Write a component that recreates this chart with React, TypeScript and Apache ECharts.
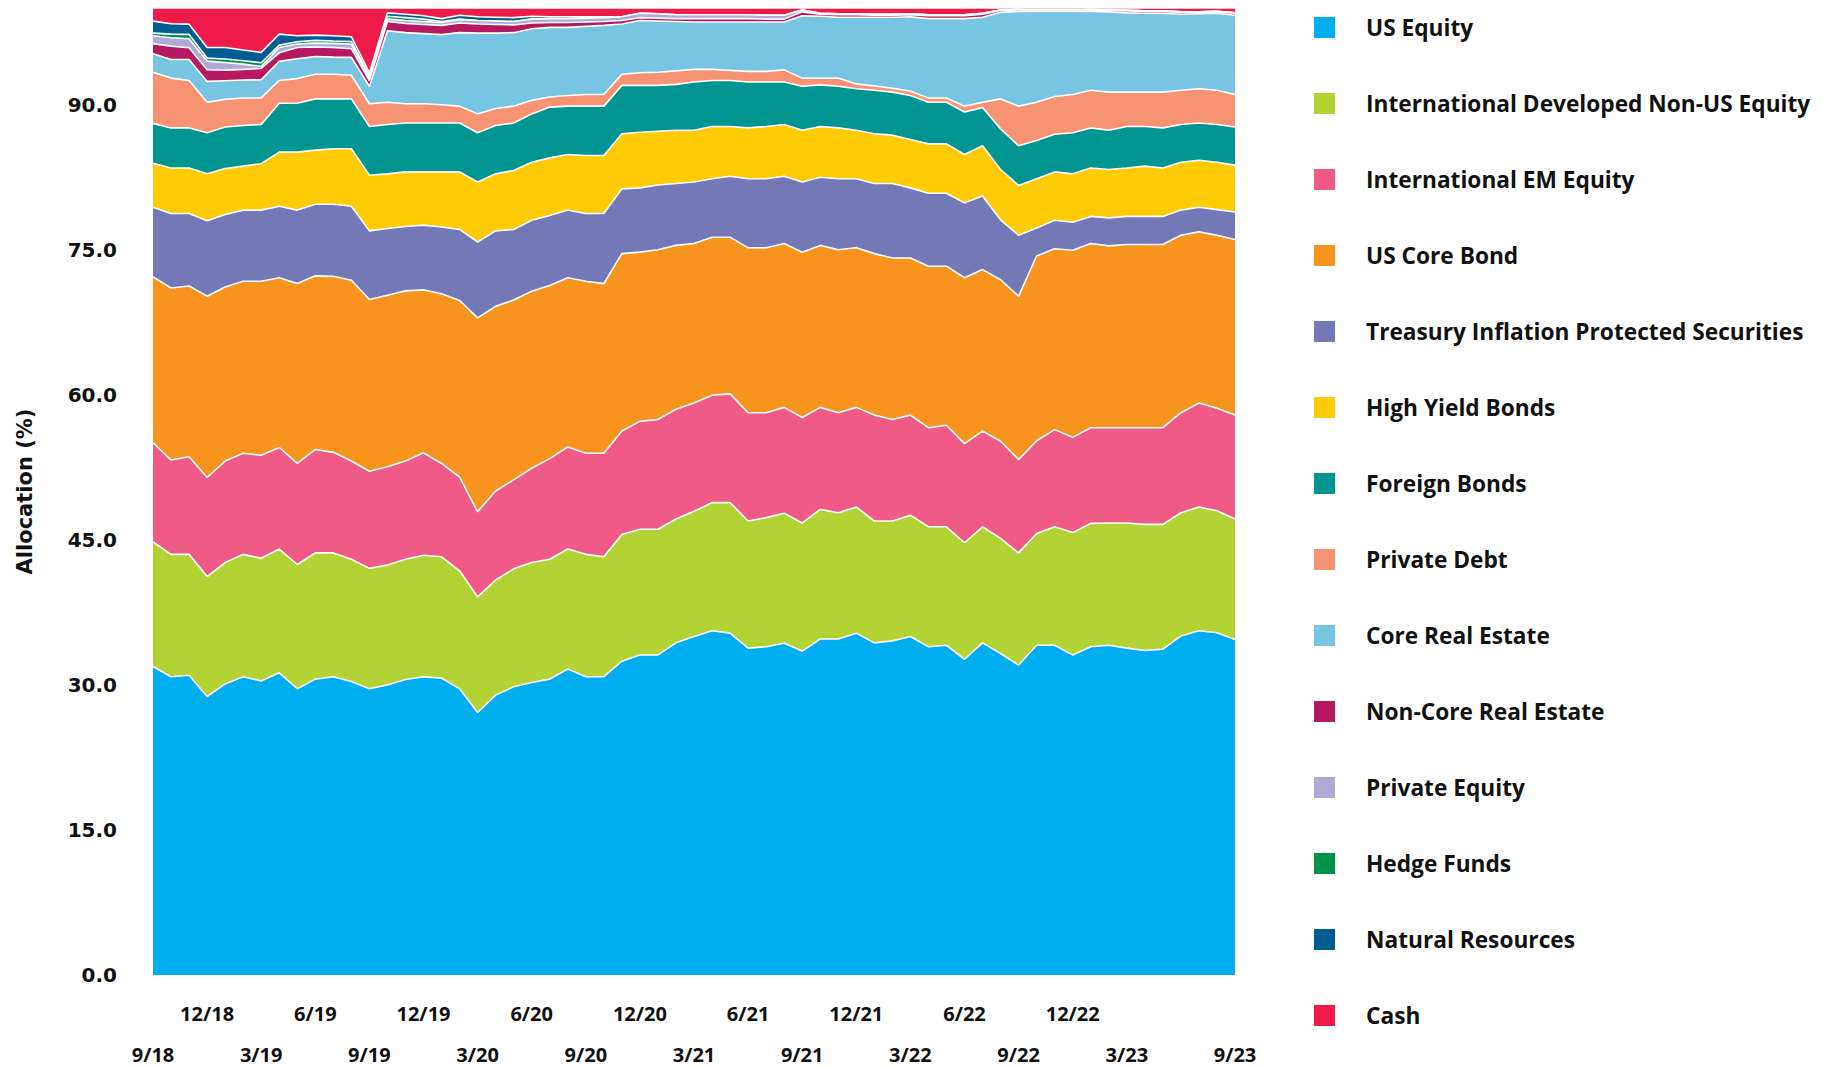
import React, { useEffect, useRef } from "react";
import * as echarts from "echarts";

const categories = [
  "9/18", "10/18", "11/18", "12/18",
  "1/19", "2/19", "3/19", "4/19", "5/19", "6/19", "7/19", "8/19", "9/19", "10/19", "11/19", "12/19",
  "1/20", "2/20", "3/20", "4/20", "5/20", "6/20", "7/20", "8/20", "9/20", "10/20", "11/20", "12/20",
  "1/21", "2/21", "3/21", "4/21", "5/21", "6/21", "7/21", "8/21", "9/21", "10/21", "11/21", "12/21",
  "1/22", "2/22", "3/22", "4/22", "5/22", "6/22", "7/22", "8/22", "9/22", "10/22", "11/22", "12/22",
  "1/23", "2/23", "3/23", "4/23", "5/23", "6/23", "7/23", "8/23", "9/23",
];

const usEquity = [31.9, 30.85, 31.0, 28.8, 30.1, 30.85, 30.4, 31.25, 29.6, 30.6, 30.85, 30.35, 29.6, 30.0, 30.55, 30.85, 30.7, 29.6, 27.15, 28.95, 29.8, 30.25, 30.6, 31.65, 30.85, 30.85, 32.45, 33.1, 33.1, 34.35, 35.0, 35.6, 35.35, 33.8, 33.95, 34.3, 33.5, 34.75, 34.75, 35.35, 34.35, 34.55, 35.0, 33.95, 34.1, 32.65, 34.35, 33.25, 32.05, 34.1, 34.1, 33.1, 33.95, 34.1, 33.8, 33.55, 33.7, 35.05, 35.6, 35.4, 34.7];
const intlDeveloped = [12.9, 12.65, 12.5, 12.4, 12.55, 12.65, 12.7, 12.8, 12.85, 13.05, 12.8, 12.65, 12.45, 12.4, 12.45, 12.55, 12.55, 12.2, 11.95, 11.9, 12.2, 12.4, 12.4, 12.4, 12.65, 12.4, 13.1, 13.0, 13.0, 12.8, 12.95, 13.25, 13.5, 13.15, 13.35, 13.45, 13.25, 13.4, 13.05, 13.05, 12.6, 12.4, 12.55, 12.4, 12.25, 12.05, 12.0, 11.9, 11.6, 11.55, 12.25, 12.65, 12.75, 12.65, 12.95, 13.05, 12.9, 12.75, 12.8, 12.6, 12.45];
const intlEM = [10.25, 9.75, 10.1, 10.25, 10.5, 10.45, 10.65, 10.5, 10.45, 10.7, 10.4, 10.15, 10.05, 10.15, 10.15, 10.6, 9.65, 9.7, 8.8, 9.2, 9.2, 9.75, 10.4, 10.55, 10.45, 10.7, 10.7, 11.15, 11.35, 11.35, 11.2, 11.1, 11.25, 11.2, 10.85, 10.95, 10.9, 10.55, 10.35, 10.3, 10.95, 10.5, 10.35, 10.25, 10.5, 10.25, 9.9, 10.05, 9.65, 9.6, 10.05, 9.85, 9.9, 9.85, 9.85, 10.0, 10.0, 10.35, 10.75, 10.6, 10.75];
const usCoreBond = [17.15, 17.8, 17.65, 18.75, 18.0, 17.8, 18.0, 17.55, 18.6, 17.95, 18.2, 18.7, 17.75, 17.75, 17.6, 16.85, 17.55, 18.25, 20.05, 19.1, 18.6, 18.3, 17.9, 17.5, 17.8, 17.55, 18.35, 17.5, 17.55, 16.95, 16.5, 16.35, 16.2, 17.05, 17.05, 16.95, 17.1, 16.75, 16.85, 16.5, 16.7, 16.7, 16.25, 16.7, 16.45, 17.15, 16.7, 16.7, 16.9, 19.1, 18.7, 19.35, 19.05, 18.8, 18.95, 18.95, 18.95, 18.35, 17.7, 17.9, 18.15];
const tips = [7.2, 7.7, 7.5, 7.8, 7.5, 7.35, 7.35, 7.4, 7.6, 7.4, 7.45, 7.65, 7.1, 6.9, 6.65, 6.7, 6.9, 7.35, 7.85, 7.8, 7.3, 7.35, 7.25, 7.0, 7.0, 7.25, 6.7, 6.65, 6.7, 6.4, 6.35, 6.05, 6.3, 7.15, 7.15, 6.95, 7.25, 7.05, 7.35, 7.15, 7.25, 7.7, 7.25, 7.55, 7.55, 7.75, 7.6, 6.2, 6.3, 2.9, 2.95, 2.9, 2.8, 2.9, 2.9, 2.9, 2.9, 2.6, 2.55, 2.65, 2.85];
const highYield = [4.55, 4.7, 4.7, 4.85, 4.75, 4.55, 4.8, 5.6, 6.0, 5.6, 5.75, 5.95, 5.75, 5.65, 5.65, 5.5, 5.7, 5.95, 6.2, 5.9, 6.1, 6.0, 5.95, 5.75, 6.0, 6.0, 5.7, 5.75, 5.55, 5.5, 5.35, 5.4, 5.15, 5.25, 5.4, 5.35, 5.35, 5.25, 5.25, 5.0, 5.15, 5.0, 5.0, 5.1, 5.1, 5.0, 5.2, 5.2, 5.15, 5.1, 5.0, 5.0, 5.0, 5.0, 5.0, 5.2, 5.0, 4.95, 4.85, 4.9, 4.85];
const foreignBonds = [4.1, 4.15, 4.15, 4.25, 4.3, 4.2, 4.05, 5.05, 5.05, 5.3, 5.15, 5.15, 5.05, 5.1, 5.05, 5.05, 5.05, 5.05, 5.1, 5.0, 4.9, 5.0, 5.25, 5.0, 5.1, 5.1, 5.0, 4.85, 4.75, 4.75, 5.0, 4.75, 4.75, 4.75, 4.6, 4.4, 4.55, 4.3, 4.3, 4.3, 4.5, 4.45, 4.55, 4.3, 4.3, 4.4, 3.95, 4.2, 4.1, 3.95, 3.9, 4.25, 4.15, 4.05, 4.3, 4.1, 4.15, 3.9, 3.85, 3.9, 3.95];
const privateDebt = [5.3, 5.15, 4.9, 3.15, 2.85, 2.85, 2.75, 2.35, 2.55, 2.55, 2.55, 2.45, 2.35, 2.3, 2.0, 2.0, 1.9, 1.75, 1.95, 1.75, 1.75, 1.4, 1.05, 1.1, 1.2, 1.2, 1.15, 1.3, 1.35, 1.4, 1.3, 1.15, 1.05, 1.1, 1.1, 1.25, 0.85, 0.7, 0.85, 0.5, 0.45, 0.4, 0.45, 0.45, 0.45, 0.6, 0.55, 3.1, 4.1, 3.95, 3.9, 3.95, 3.9, 3.95, 3.55, 3.55, 3.7, 3.55, 3.55, 3.55, 3.35];
const coreRealEstate = [1.92, 1.93, 2.18, 2.16, 1.93, 1.85, 1.88, 1.98, 2.05, 1.84, 1.77, 1.84, 1.79, 7.4, 7.35, 7.25, 7.25, 7.6, 8.35, 7.8, 7.6, 7.4, 7.2, 7.05, 7.05, 7.15, 5.2, 5.4, 5.3, 5.1, 4.9, 4.9, 5.0, 5.1, 5.1, 4.95, 6.45, 6.4, 6.3, 6.9, 7.1, 7.35, 7.7, 8.2, 8.2, 9.05, 8.8, 8.95, 9.8, 9.4, 8.8, 8.6, 8.15, 8.3, 8.2, 8.15, 8.15, 7.85, 7.75, 7.95, 8.2];
const nonCoreRealEstate = [1.03, 1.38, 1.21, 1.2, 1.1, 1.1, 1.17, 0.89, 1.17, 0.97, 1.0, 0.9, 0.6, 0.95, 0.95, 0.95, 0.95, 1.0, 0.95, 0.9, 0.8, 0.6, 0.5, 0.5, 0.45, 0.4, 0.35, 0.3, 0.3, 0.3, 0.35, 0.35, 0.35, 0.35, 0.3, 0.3, 0.4, 0.2, 0.25, 0.25, 0.2, 0.2, 0.2, 0.3, 0.3, 0.3, 0.3, 0.2, 0.15, 0.1, 0.1, 0.1, 0.15, 0.15, 0.2, 0.2, 0.2, 0.2, 0.15, 0.15, 0.2];
const privateEquity = [0.83, 0.86, 0.93, 0.9, 0.79, 0.55, 0.21, 0.55, 0.35, 0.41, 0.42, 0.48, 0.3, 0.25, 0.3, 0.3, 0.3, 0.35, 0.35, 0.35, 0.35, 0.4, 0.4, 0.4, 0.4, 0.4, 0.4, 0.45, 0.45, 0.4, 0.4, 0.4, 0.4, 0.4, 0.4, 0.4, 0.2, 0.1, 0.1, 0.1, 0.1, 0.1, 0.1, 0.1, 0.1, 0.1, 0.1, 0.05, 0.05, 0.05, 0.05, 0.05, 0.05, 0.05, 0.05, 0.05, 0.05, 0.05, 0.05, 0.05, 0.05];
const hedgeFunds = [0.27, 0.38, 0.45, 0.31, 0.35, 0.35, 0.38, 0.24, 0.24, 0.28, 0.24, 0.27, 0.2, 0.3, 0.3, 0.25, 0.1, 0.05, 0, 0, 0, 0, 0, 0, 0, 0, 0, 0, 0, 0, 0, 0, 0, 0, 0, 0, 0, 0, 0, 0, 0, 0, 0, 0, 0, 0, 0, 0, 0, 0, 0, 0, 0, 0, 0, 0, 0, 0, 0, 0, 0];
const naturalResources = [1.24, 1.07, 1.06, 1.1, 1.2, 1.1, 1.07, 1.14, 0.62, 0.55, 0.55, 0.49, 0.3, 0.35, 0.35, 0.35, 0.3, 0.4, 0.4, 0.4, 0.4, 0.3, 0.2, 0.2, 0.15, 0.1, 0, 0, 0, 0, 0, 0, 0, 0, 0, 0, 0, 0, 0, 0, 0, 0, 0, 0, 0, 0, 0, 0, 0, 0, 0, 0, 0, 0, 0, 0, 0, 0, 0, 0, 0];
const cash = [1.36, 1.63, 1.67, 4.08, 4.08, 4.35, 4.59, 2.7, 2.87, 2.8, 2.87, 2.97, 6.71, 0.5, 0.65, 0.8, 1.1, 0.75, 0.9, 0.95, 1.0, 0.85, 0.9, 0.9, 0.9, 0.9, 0.9, 0.55, 0.6, 0.7, 0.7, 0.7, 0.7, 0.7, 0.75, 0.75, 0.2, 0.55, 0.6, 0.6, 0.65, 0.65, 0.6, 0.7, 0.7, 0.7, 0.55, 0.2, 0.15, 0.2, 0.2, 0.2, 0.15, 0.2, 0.25, 0.3, 0.3, 0.4, 0.4, 0.35, 0.5];

const seriesNames = [
  "US Equity",
  "International Developed Non-US Equity",
  "International EM Equity",
  "US Core Bond",
  "Treasury Inflation Protected Securities",
  "High Yield Bonds",
  "Foreign Bonds",
  "Private Debt",
  "Core Real Estate",
  "Non-Core Real Estate",
  "Private Equity",
  "Hedge Funds",
  "Natural Resources",
  "Cash",
];
const seriesData = [
  usEquity, intlDeveloped, intlEM, usCoreBond, tips, highYield, foreignBonds,
  privateDebt, coreRealEstate, nonCoreRealEstate, privateEquity, hedgeFunds, naturalResources, cash,
];
const seriesColors = [
  "#00AEEF", "#B3D335", "#EF5A87", "#F7941E", "#7578B6", "#FFCB05", "#009591",
  "#F59372", "#77C4E3", "#B5195F", "#B1AAD5", "#00914A", "#005D91", "#EE1A49",
];

export default function App() {
  const ref = useRef<HTMLDivElement>(null);
  useEffect(() => {
    document.body.style.margin = "0";
    const chart = echarts.init(ref.current!, null, { renderer: "svg" });
    const font = "'Open Sans', sans-serif";
    const wideFont = "'DejaVu Sans', sans-serif";
    const labelStyle = { fontFamily: font, fontSize: 20, fontWeight: "bold" as const, color: "#111111" };
    chart.setOption({
      animation: false,
      textStyle: { fontFamily: font },
      grid: { left: 153, right: 594, top: 8, bottom: 93 },
      legend: {
        orient: "vertical",
        left: 1309,
        top: 11,
        icon: "rect",
        itemWidth: 21,
        itemHeight: 21,
        itemGap: 53,
        itemStyle: { borderWidth: 0 },
        textStyle: { ...labelStyle, fontSize: 22.7, lineHeight: 21, padding: [0, 0, 0, 26] },
        data: seriesNames,
      },
      xAxis: [
        {
          type: "category",
          data: categories,
          boundaryGap: false,
          axisLine: { show: false },
          axisTick: { show: false },
          splitLine: { show: false },
          axisLabel: { ...labelStyle, margin: 28, interval: (i: number) => i % 6 === 3 && i !== 57 },
        },
        {
          type: "category",
          data: categories,
          boundaryGap: false,
          position: "bottom",
          offset: 41,
          axisLine: { show: false },
          axisTick: { show: false },
          splitLine: { show: false },
          axisLabel: { ...labelStyle, margin: 28, interval: (i: number) => i % 6 === 0 },
        },
      ],
      yAxis: {
        type: "value",
        min: 0,
        max: 100,
        interval: 15,
        axisLine: { show: false },
        axisTick: { show: false },
        splitLine: { show: false },
        axisLabel: { ...labelStyle, fontFamily: wideFont, margin: 36, showMaxLabel: false, formatter: (v: number) => v.toFixed(1) },
        name: "Allocation (%)",
        nameLocation: "middle",
        nameGap: 118,
        nameTextStyle: { ...labelStyle, fontFamily: wideFont, fontSize: 21 },
      },
      series: seriesData.map((d, i) => ({
        name: seriesNames[i],
        type: "line",
        stack: "total",
        data: d,
        symbol: "none",
        showSymbol: false,
        xAxisIndex: 0,
        z: 40 - i,
        lineStyle: { color: "#ffffff", width: 1.6 },
        areaStyle: { color: seriesColors[i], opacity: 1 },
        itemStyle: { color: seriesColors[i] },
        emphasis: { disabled: true },
      })),
    });
    return () => chart.dispose();
  }, []);
  return <div ref={ref} style={{ position: "absolute", left: 0, top: 0, width: 1829, height: 1068 }} />;
}
